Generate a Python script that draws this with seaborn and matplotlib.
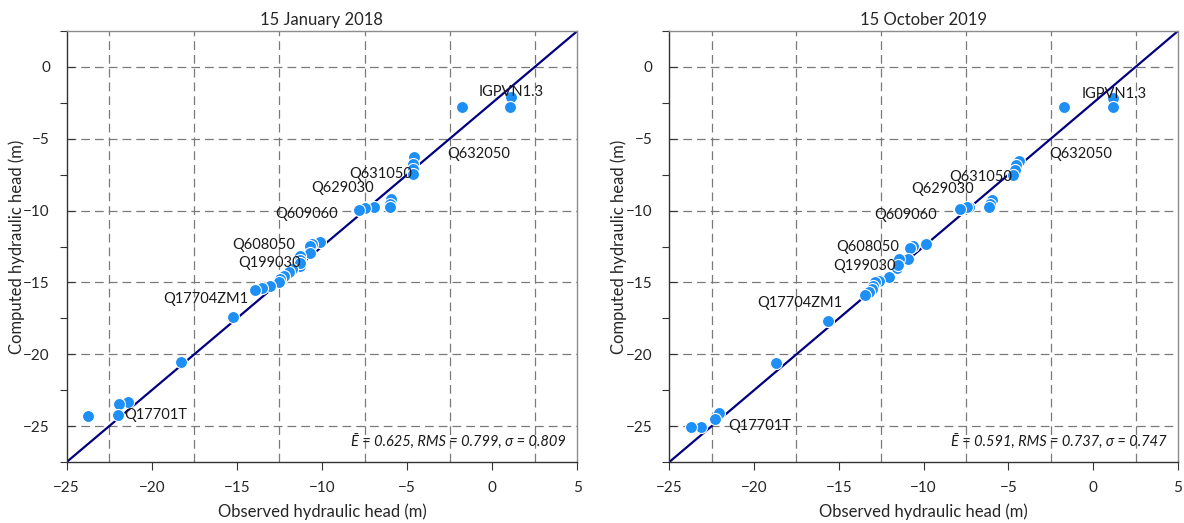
import numpy as np
import pandas as pd
import matplotlib
matplotlib.use("Agg")
import matplotlib.pyplot as plt
from matplotlib.ticker import FixedLocator
import seaborn as sns

sns.set_theme(style="white")
plt.rcParams['font.family'] = ['Lato', 'DejaVu Sans']

# ---------------- data ----------------
obs_jan = [-1.76, 1.08, 1.04, -4.61, -4.65, -4.65, -4.65, -5.94, -6.02, -6.02,
           -6.96, -7.45, -7.80, -10.10, -10.59, -10.69, -10.69, -11.28, -11.28,
           -11.30, -11.30, -11.76, -11.96, -12.26, -12.45, -12.55, -13.04, -13.53,
           -13.96, -15.24, -18.28, -21.37, -21.90, -22.00, -23.76]
comp_jan = [-2.79, -2.09, -2.77, -6.28, -6.75, -7.10, -7.45, -9.19, -9.54, -9.77,
            -9.72, -9.82, -9.94, -12.17, -12.33, -12.49, -12.98, -13.19, -13.84,
            -13.45, -13.65, -14.07, -14.30, -14.54, -14.77, -15.00, -15.24, -15.42,
            -15.52, -17.40, -20.54, -23.31, -23.43, -24.20, -24.31]

obs_oct = [-1.72, 1.14, 1.14, -4.37, -4.53, -4.63, -4.73, -5.98, -6.08, -6.12,
           -7.30, -7.42, -7.85, -9.84, -10.63, -10.80, -10.90, -11.45, -11.55,
           -11.50, -12.02, -12.61, -12.86, -12.96, -13.05, -13.20, -13.45, -15.66,
           -18.72, -22.05, -22.30, -23.15, -23.74]
comp_oct = [-2.82, -2.14, -2.82, -6.52, -6.82, -7.15, -7.52, -9.26, -9.54, -9.77,
            -9.73, -9.73, -9.89, -12.33, -12.45, -12.63, -13.38, -13.38, -14.00,
            -13.80, -14.65, -14.89, -15.00, -15.24, -15.47, -15.70, -15.89, -17.68,
            -20.59, -24.12, -24.54, -25.05, -25.05]

ref_x = [-25, 5]
ref_y = [-27.5, 2.5]

well_names = ["IGPVN1.3", "Q632050", "Q631050", "Q629030", "Q609060",
              "Q608050", "Q199030", "Q17704ZM1", "Q17701T"]
lab_x_jan = [-0.79, -2.65, -8.39, -10.65, -12.75, -15.26, -14.90, -19.35, -21.61]
lab_y_jan = [-1.74, -6.05, -7.45, -8.45, -10.24, -12.38, -13.66, -16.12, -24.24]
lab_x_oct = [-0.67, -2.58, -8.49, -10.75, -12.90, -15.13, -15.33, -19.80, -21.54]
lab_y_oct = [-1.86, -6.05, -7.68, -8.49, -10.31, -12.52, -13.84, -16.45, -25.00]

titles = ["15 January 2018", "15 October 2019"]
stats = ["Ē = 0.625, RMS = 0.799, σ = 0.809", "Ē = 0.591, RMS = 0.737, σ = 0.747"]
x_ticks = [-25, -20, -15, -10, -5, 0, 5]
y_ticks = [0, -5, -10, -15, -20, -25]

panels = [
    (obs_jan, comp_jan, lab_x_jan, lab_y_jan),
    (obs_oct, comp_oct, lab_x_oct, lab_y_oct),
]

# ---------------- figure ----------------
fig = plt.figure(figsize=(11.84, 5.23), dpi=100)
axes_pos = [[0.0563, 0.1166, 0.4313, 0.8241], [0.5653, 0.1166, 0.4296, 0.8241]]

point_color = "#1E8FF5"
line_color = "#000080"
fs = 10.5
dash = (0, (7, 4))

for i, (obs, comp, lx, ly) in enumerate(panels):
    ax = fig.add_axes(axes_pos[i])
    df = pd.DataFrame({"obs": obs, "comp": comp})
    sns.lineplot(x=ref_x, y=ref_y, ax=ax, color=line_color, linewidth=1.6,
                 zorder=2, legend=False)
    sns.scatterplot(data=df, x="obs", y="comp", ax=ax, color=point_color,
                    s=75, edgecolor="white", linewidth=0.8, zorder=3, legend=False)

    ax.set_xlim(-25, 5)
    ax.set_ylim(-27.5, 2.5)

    # x: labelled ticks at 5-multiples, dashed grid at half positions
    ax.xaxis.set_major_locator(FixedLocator(x_ticks))
    ax.xaxis.set_minor_locator(FixedLocator([v + 2.5 for v in x_ticks[:-1]]))
    ax.tick_params(axis="x", which="major", direction="out", length=6, width=0.8,
                   color="#333333", labelsize=11, pad=8, bottom=True)
    ax.tick_params(axis="x", which="minor", length=0, bottom=True)
    ax.xaxis.grid(True, which="minor", linestyle=dash, color="#7a7a7a", linewidth=0.9)
    ax.xaxis.grid(False, which="major")

    # y: labelled ticks inward, gridlines at labelled values, minor ticks outward
    ax.yaxis.set_major_locator(FixedLocator(y_ticks))
    ax.yaxis.set_minor_locator(FixedLocator([v - 2.5 for v in y_ticks] + [2.5]))
    ax.tick_params(axis="y", which="major", direction="in", length=6, width=0.8,
                   color="#333333", labelsize=11, pad=12, left=True)
    ax.tick_params(axis="y", which="minor", direction="out", length=5, width=0.8,
                   color="#333333", left=True)
    ax.yaxis.grid(True, which="major", linestyle=dash, color="#7a7a7a", linewidth=0.9)
    ax.set_axisbelow(True)

    for side in ["left", "bottom"]:
        ax.spines[side].set_color("#333333")
        ax.spines[side].set_linewidth(1.0)
    for side in ["top", "right"]:
        ax.spines[side].set_color("#8c8c8c")
        ax.spines[side].set_linewidth(1.0)

    ax.set_xlabel("Observed hydraulic head (m)", fontsize=12, labelpad=6)
    ax.set_ylabel("Computed hydraulic head (m)", fontsize=12, labelpad=-1)
    ax.set_title(titles[i], fontsize=12, pad=4)

    for name, tx, ty in zip(well_names, lx, ly):
        ax.text(tx, ty, name, fontsize=fs, color="#1a1a1a", ha="left", va="center",
                zorder=4)

    ax.text(0.977, 0.045, stats[i], transform=ax.transAxes, fontsize=fs,
            style="italic", ha="right", va="center", color="#1a1a1a",
            family=["Lato", "DejaVu Sans"])

fig.savefig("out.png", dpi=100, facecolor="white")
